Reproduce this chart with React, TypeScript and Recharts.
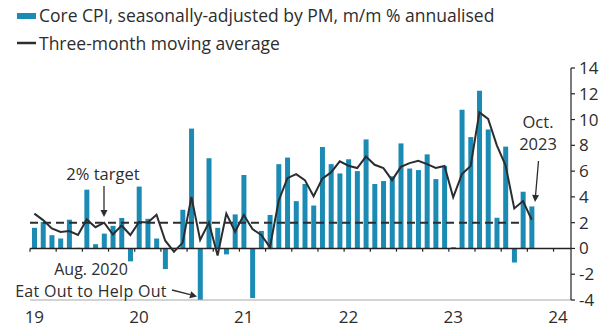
import React from 'react'
import {
  ComposedChart,
  Bar,
  Line,
  XAxis,
  YAxis,
  ReferenceLine,
} from 'recharts'

// monthly, Jan 2019 .. Oct 2023
const coreCpi = [
  1.6, 2.05, 1.03, 0.77, 2.23, 0.05, 4.56, 0.33, 1.15, 1.75, 2.36, -1.0,
  4.8, 2.3, 0.77, -1.6, 0.05, 3.0, 9.3, -10.4, 7.0, 1.6, -0.46, 2.64,
  5.7, -3.85, 1.36, 2.6, 6.54, 7.05, 3.67, 5.0, 3.33, 7.87, 6.54, 5.82,
  6.92, 6.0, 8.46, 5.0, 5.23, 5.6, 8.15, 6.2, 6.08, 7.3, 5.38, 6.4,
  0.1, 10.77, 8.64, 12.23, 9.23, 2.38, 7.9, -1.1, 4.4, 3.26,
]

const movingAvg = [
  2.7, 2.2, 1.55, 1.28, 1.35, 1.05, 2.25, 1.65, 2.0, 1.08, 1.78, 1.04,
  2.05, 2.02, 2.62, 0.6, -0.25, 0.45, 4.0, 0.65, 2.0, -0.55, 2.7, 1.3,
  2.6, 1.5, 1.05, 0.1, 3.7, 5.45, 5.77, 5.3, 4.05, 5.42, 5.9, 6.76,
  6.42, 6.24, 7.13, 6.49, 6.23, 5.3, 6.33, 6.62, 6.8, 6.54, 6.24, 6.4,
  3.97, 5.77, 6.4, 10.56, 10.05, 8.0, 6.45, 3.1, 3.68, 2.23,
]

const yearTicks = [0.5, 12.5, 24.5, 36.5, 48.5, 60.5]
const yearLabels = ['19', '20', '21', '22', '23', '24']
const quarterTicks = Array.from({ length: 21 }, (_, i) => i * 3)
const yTicks = [-4, -2, 0, 2, 4, 6, 8, 10, 12, 14]

const data = coreCpi.map((v, i) => ({ t: i + 0.5, cpi: v, avg: movingAvg[i] }))

const BLUE = '#1b8bb4'
const INK = '#2b2d30'
const TXT = '#2d2d2d'
const FONT = '"Open Sans", sans-serif'

const Arrow = ({ x1, y1, x2, y2 }: { x1: number; y1: number; x2: number; y2: number }) => {
  const a = Math.atan2(y2 - y1, x2 - x1)
  const l = 7
  const w = 3.5
  const bx = x2 - l * Math.cos(a)
  const by = y2 - l * Math.sin(a)
  const px = -Math.sin(a) * w
  const py = Math.cos(a) * w
  return (
    <g>
      <line x1={x1} y1={y1} x2={bx} y2={by} stroke={INK} strokeWidth={1.3} />
      <polygon points={`${x2},${y2} ${bx + px},${by + py} ${bx - px},${by - py}`} fill={INK} />
    </g>
  )
}

export default function App() {
  return (
    <div style={{ position: 'absolute', left: 0, top: 0, width: 612, height: 336, background: '#fff', fontFamily: FONT }}>
      <ComposedChart
        width={612}
        height={336}
        data={data}
        margin={{ top: 68, right: 0, left: 30, bottom: 6 }}>
        <XAxis
          dataKey='t'
          type='number'
          domain={[0, 62]}
          ticks={yearTicks}
          tickFormatter={(v: number) => yearLabels[yearTicks.indexOf(v)]}
          allowDataOverflow
          axisLine={{ stroke: '#a8a8a8', strokeWidth: 1.2 }}
          tickLine={false}
          tickSize={0}
          tickMargin={11}
          height={30}
          tick={{ fill: TXT, fontSize: 17, fontFamily: FONT }}
        />
        <YAxis
          orientation='right'
          domain={[-4, 14]}
          ticks={yTicks}
          allowDataOverflow
          width={41}
          axisLine={{ stroke: '#222', strokeWidth: 1.2 }}
          tickLine={{ stroke: '#222', strokeWidth: 1.2 }}
          tickSize={4}
          tickMargin={4}
          tick={{ fill: TXT, fontSize: 17, fontFamily: FONT }}
        />
        <Bar dataKey='cpi' fill={BLUE} barSize={5} isAnimationActive={false} />
        <ReferenceLine y={0} stroke='#222' strokeWidth={1.5} />
        {quarterTicks.map((q) => (
          <ReferenceLine
            key={q}
            segment={[{ x: q, y: 0 }, { x: q, y: -0.25 }]}
            stroke='#222'
            strokeWidth={1.2}
            ifOverflow='visible'
          />
        ))}
        <ReferenceLine
          segment={[{ x: 0, y: 2 }, { x: 56.5, y: 2 }]}
          stroke={INK}
          strokeWidth={2}
          strokeDasharray='8 5'
        />
        <Line
          dataKey='avg'
          type='linear'
          stroke={INK}
          strokeWidth={2}
          dot={false}
          isAnimationActive={false}
        />
      </ComposedChart>
      <svg
        width={612}
        height={336}
        style={{ position: 'absolute', left: 0, top: 0, pointerEvents: 'none' }}
        fontFamily={FONT}>
        <rect x={17} y={13} width={19} height={6} fill={BLUE} />
        <text x={39} y={22} fontSize={17.5} fontWeight={500} fill={TXT}>
          Core CPI, seasonally-adjusted by PM, m/m % annualised
        </text>
        <line x1={17} y1={43} x2={36} y2={43} stroke={INK} strokeWidth={2.5} />
        <text x={39} y={50} fontSize={17.5} fontWeight={500} fill={TXT}>
          Three-month moving average
        </text>

        <text x={103} y={180} fontSize={16.5} fontWeight={500} fill={TXT} textAnchor='middle'>2% target</text>
        <Arrow x1={104} y1={186} x2={104} y2={217} />

        <text x={91} y={275} fontSize={16} fontWeight={500} fill={TXT} textAnchor='middle'>Aug. 2020</text>
        <text x={91} y={297} fontSize={16} fontWeight={500} fill={TXT} textAnchor='middle' letterSpacing={0.3}>Eat Out to Help Out</text>
        <Arrow x1={172} y1={290} x2={197} y2={296.5} />

        <text x={538} y={128} fontSize={16.5} fontWeight={500} fill={TXT} textAnchor='middle'>Oct.</text>
        <text x={538} y={150} fontSize={16.5} fontWeight={500} fill={TXT} textAnchor='middle'>2023</text>
        <Arrow x1={538.5} y1={161} x2={535} y2={202} />
      </svg>
    </div>
  )
}
